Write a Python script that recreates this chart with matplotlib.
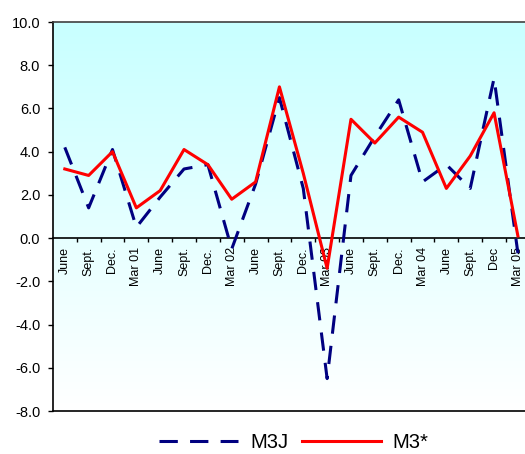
import matplotlib
matplotlib.use('Agg')

import matplotlib.pyplot as plt
import numpy as np
from matplotlib.colors import LinearSegmentedColormap

plt.rcParams['font.family'] = ['Liberation Sans', 'DejaVu Sans']

# Quarterly growth rates, June 2000 to March 2005
quarters = ["June", "Sept.", "Dec.", "Mar 01", "June", "Sept.", "Dec.", "Mar 02",
            "June", "Sept.", "Dec.", "Mar 03", "June", "Sept.", "Dec.", "Mar 04",
            "June", "Sept.", "Dec", "Mar 05"]
m3j = [4.2, 1.4, 4.1, 0.5, 1.9, 3.2, 3.4, -0.5, 2.5, 6.5,
       2.3, -6.5, 2.9, 4.7, 6.4, 2.6, 3.4, 2.3, 7.4, -0.7]
m3_star = [3.2, 2.9, 4.0, 1.4, 2.2, 4.1, 3.4, 1.8, 2.6, 7.0,
           3.0, -1.4, 5.5, 4.4, 5.6, 4.9, 2.3, 3.8, 5.8, 0.1]
y_ticks = np.arange(-8, 10.1, 2)

fig = plt.figure(figsize=(5.25, 4.54), dpi=100)
ax = fig.add_axes([0.1007, 0.0947, 0.9085, 0.8568])

# pale cyan to white background
bg = LinearSegmentedColormap.from_list('bg', ['#ffffff', '#c8ffff'])
ax.imshow(np.linspace(0, 1, 256).reshape(-1, 1)[::-1], cmap=bg, aspect='auto',
          extent=[0, 1, 0, 1], transform=ax.transAxes, zorder=0)

x = np.arange(len(quarters))
ax.plot(x, m3j, color='#000080', lw=2.2, dashes=(6, 4), label='M3J', zorder=3)
ax.plot(x, m3_star, color='#ff0000', lw=2.2, label='M3*', zorder=4)

ax.set_xlim(-0.5, len(quarters) - 0.5)
ax.set_ylim(-8, 10)

ax.set_yticks(y_ticks)
ax.set_yticklabels([f"{v:.1f}" for v in y_ticks])
ax.tick_params(axis='y', direction='out', length=3.6, width=1, pad=5.5,
               labelsize=10.5, colors='black')

# category boundaries as ticks on the zero line, labels centred between them
ax.spines['bottom'].set_position(('data', 0))
ax.set_xticks(np.arange(0.5, len(quarters) - 0.5, 1))
ax.set_xticklabels([])
ax.set_xticks(x, minor=True)
ax.set_xticklabels(quarters, minor=True, rotation=90, va='top', ha='center')
ax.tick_params(axis='x', which='major', direction='out', length=3.2, width=1)
ax.tick_params(axis='x', which='minor', length=0, pad=6.5, labelsize=9)

ax.axhline(-8, color='black', lw=1.2, zorder=5, clip_on=False)
ax.spines['left'].set_linewidth(1.2)
ax.spines['bottom'].set_linewidth(1.2)
ax.spines['top'].set_color('#404040')
ax.spines['top'].set_linewidth(1.2)
ax.spines['right'].set_visible(False)

fig.legend(loc='center', bbox_to_anchor=(294 / 525, 1 - 443 / 454), ncol=2,
           frameon=False, fontsize=14.5, handlelength=3.9, handletextpad=0.6,
           columnspacing=0.7, borderpad=0)

fig.savefig('out.png', dpi=100)
